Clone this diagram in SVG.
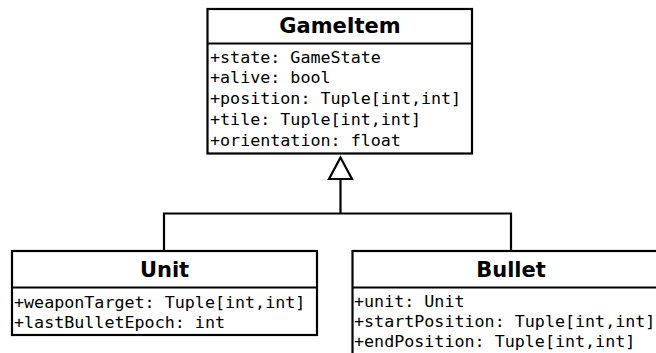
<svg xmlns="http://www.w3.org/2000/svg" width="656" height="353" viewBox="0 0 656 353">
<style>
.box{fill:#fff;stroke:#000;stroke-width:2.2}
.sep{stroke:#000;stroke-width:2.2}
.title{font-family:"DejaVu Sans",sans-serif;font-weight:bold;font-size:21px;text-anchor:middle;fill:#000}
.attr{font-family:"DejaVu Sans Mono",monospace;font-size:16.7px;fill:#000}
.conn{fill:none;stroke:#000;stroke-width:2.2}
</style>
<rect width="656" height="353" fill="#fff"/>
<g id="connectors">
<polyline class="conn" points="164,251 164,213.5 511,213.5 511,251"/>
<line class="conn" x1="340.5" y1="213.5" x2="340.5" y2="179"/>
<polygon class="conn" points="340.5,157.5 329,179 352,179" fill="#fff"/>
</g>
<g id="GameItem">
<rect class="box" x="207.5" y="9" width="264.5" height="144.5"/>
<line class="sep" x1="207.5" y1="43.5" x2="472" y2="43.5"/>
<text class="title" x="340" y="33">GameItem</text>
<text class="attr" x="210" y="62.7">+state: GameState</text>
<text class="attr" x="210" y="83.4">+alive: bool</text>
<text class="attr" x="210" y="104.1">+position: Tuple[int,int]</text>
<text class="attr" x="210" y="124.8">+tile: Tuple[int,int]</text>
<text class="attr" x="210" y="145.5">+orientation: float</text>
</g>
<g id="Unit">
<rect class="box" x="12" y="251" width="305" height="84"/>
<line class="sep" x1="12" y1="287.5" x2="317" y2="287.5"/>
<text class="title" x="164.5" y="277">Unit</text>
<text class="attr" x="14" y="307.5">+weaponTarget: Tuple[int,int]</text>
<text class="attr" x="14" y="328">+lastBulletEpoch: int</text>
</g>
<g id="Bullet">
<rect class="box" x="352.5" y="251" width="317" height="120"/>
<line class="sep" x1="352.5" y1="287.5" x2="670" y2="287.5"/>
<text class="title" x="511" y="277">Bullet</text>
<text class="attr" x="354" y="306.7">+unit: Unit</text>
<text class="attr" x="354" y="327">+startPosition: Tuple[int,int]</text>
<text class="attr" x="354" y="347.3">+endPosition: Tuple[int,int]</text>
</g>
</svg>
